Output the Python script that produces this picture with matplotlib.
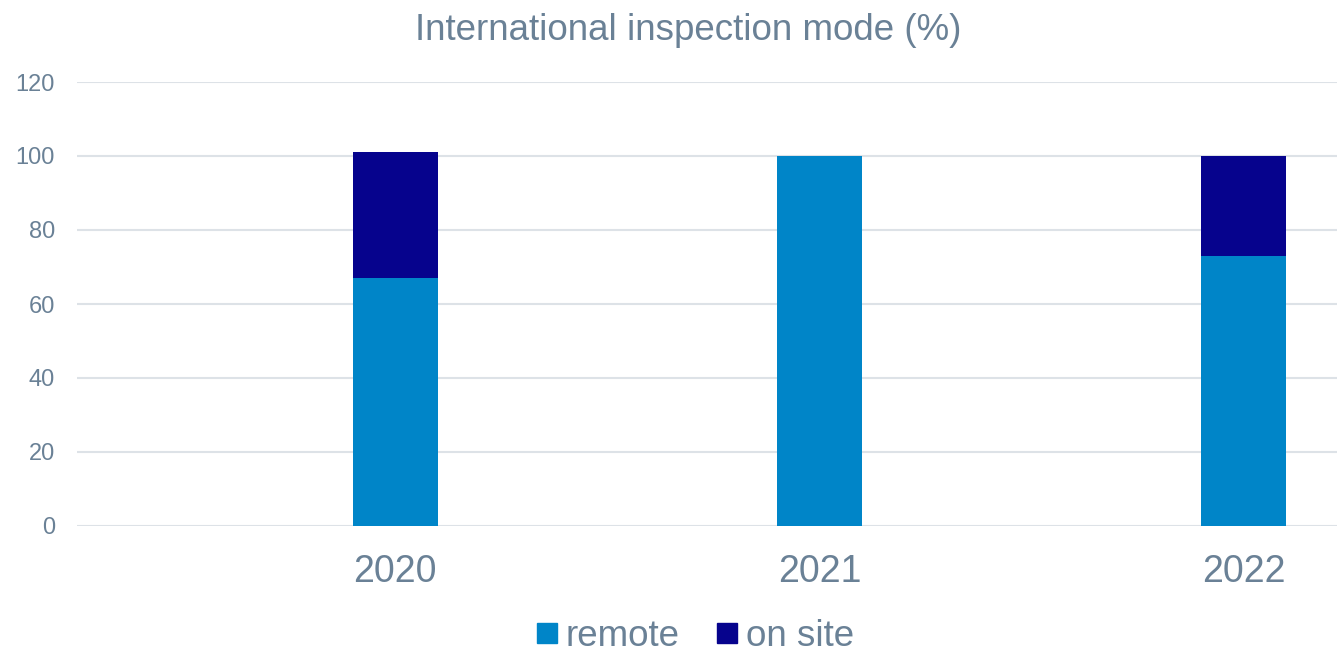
import numpy as np
import matplotlib
matplotlib.use('Agg')
import matplotlib.pyplot as plt
from matplotlib.lines import Line2D

# data
years = ['2020', '2021', '2022']
remote = [67, 100, 73]
onSite = [34, 0, 27]
seriesNames = ['remote', 'on site']

remoteColor = '#0085C8'
onSiteColor = '#06038D'
textColor = '#6A8196'
gridColor = '#DDE2E7'

plt.rcParams['font.family'] = ['Liberation Sans', 'DejaVu Sans']

fig = plt.figure(figsize=(13.37, 6.53), dpi=100)
ax = fig.add_axes([77/1337, 1-526/653, 1-77/1337, (526-82)/653])

x = np.arange(len(years))
ax.bar(x, remote, width=0.2, color=remoteColor, zorder=3)
ax.bar(x, onSite, width=0.2, bottom=remote, color=onSiteColor, zorder=3)

ax.set_xlim(-0.75, 2.22)
ax.set_ylim(0, 120)
ax.set_yticks(range(0, 121, 20))
ax.set_xticks(x)
ax.set_xticklabels(years)
ax.grid(axis='y', color=gridColor, linewidth=1.5, zorder=0)
for s in ax.spines.values():
    s.set_visible(False)
ax.tick_params(axis='y', length=0, pad=16, labelsize=17, labelcolor=textColor)
ax.tick_params(axis='x', length=0, pad=20, labelsize=27, labelcolor=textColor)

fig.text(688/1337, 1-30/653, 'International inspection mode (%)', ha='center', va='center',
         fontsize=26.5, color=textColor)

handles = [Line2D([], [], marker='s', linestyle='none', markersize=14, color=c)
           for c in [remoteColor, onSiteColor]]
fig.legend(handles, seriesNames, loc='center', bbox_to_anchor=(695/1337, 1-636/653),
           ncol=2, frameon=False, fontsize=26.5, labelcolor=textColor,
           handlelength=0.6, handletextpad=0.2, columnspacing=1.0, borderpad=0)

fig.savefig('out.png', dpi=100)
